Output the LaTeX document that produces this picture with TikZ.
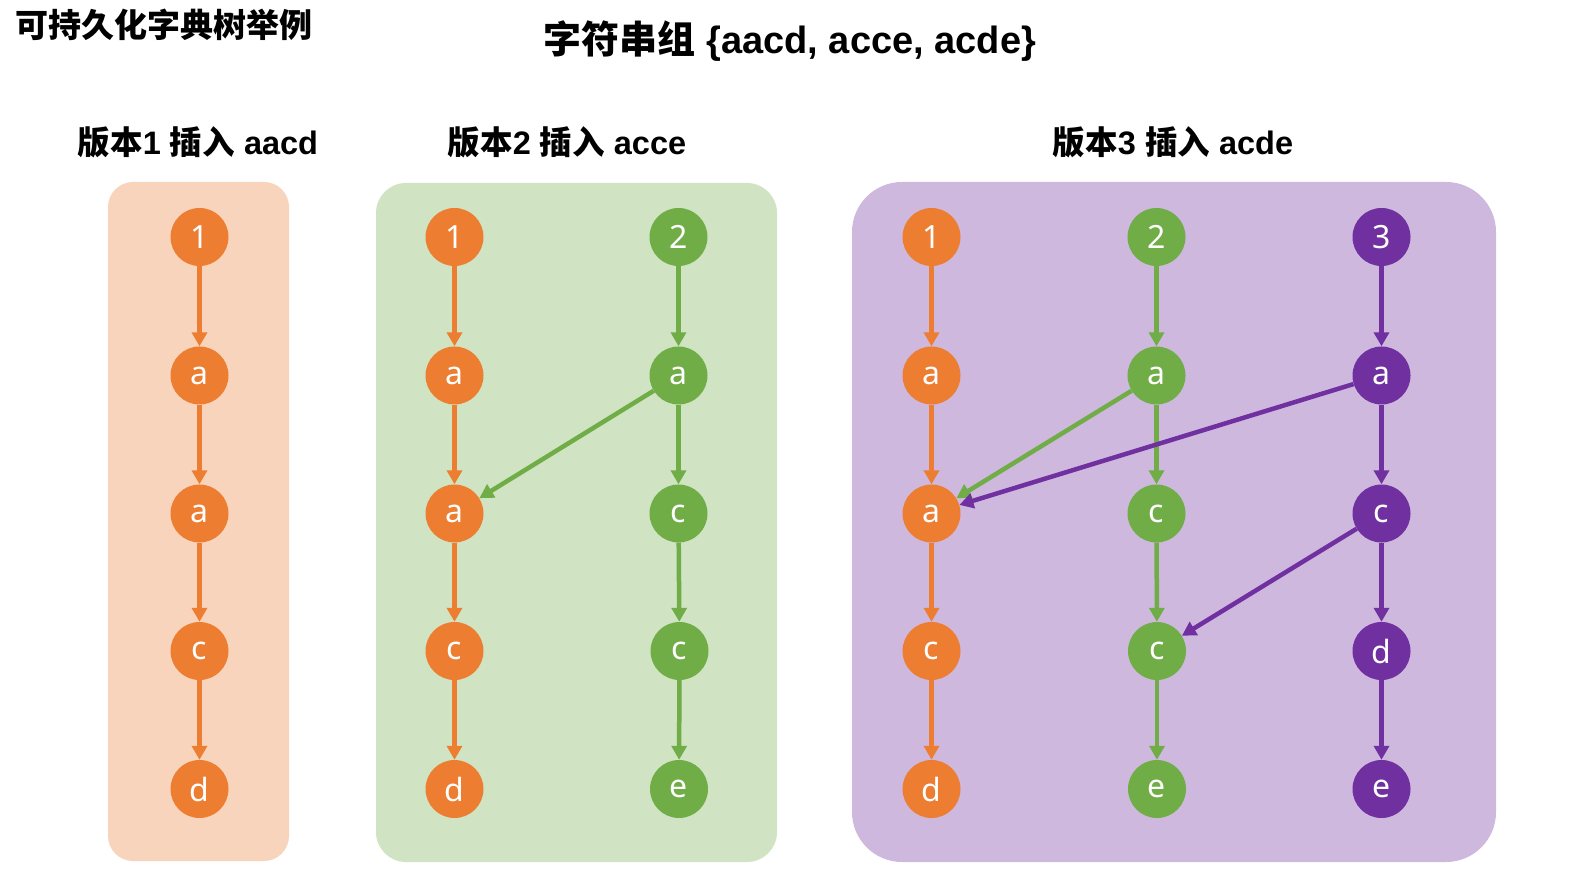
\documentclass[tikz,border=0pt]{standalone}
\usepackage{fontspec}
\setmainfont{Liberation Sans}
\newfontfamily\cjk{Noto Sans CJK SC}
\newfontfamily\nodefont{Noto Sans}
\usetikzlibrary{arrows.meta}
\definecolor{orng}{HTML}{ED7D31}
\definecolor{grn}{HTML}{70AD47}
\definecolor{purp}{HTML}{7030A0}
\definecolor{orngbg}{HTML}{F8D4BD}
\definecolor{grnbg}{HTML}{D0E3C3}
\definecolor{purpbg}{HTML}{CEB8DE}
\tikzset{
  trie/.style={circle, minimum size=58pt, inner sep=0pt, text=white, font=\nodefont\fontsize{32}{32}\selectfont},
  on/.style={trie, fill=orng},
  gn/.style={trie, fill=grn},
  pn/.style={trie, fill=purp},
  link/.style={line width=4.5pt, -{Triangle[length=14pt,width=15pt]}},
  ol/.style={link, draw=orng},
  gl/.style={link, draw=grn},
  pl/.style={link, draw=purp},
  ttl/.style={font=\bfseries\fontsize{32.5}{32.5}\selectfont, text=black},
}
\begin{document}
\begin{tikzpicture}[x=1pt,y=-1pt]
\useasboundingbox (0,0) rectangle (1588,874);
\fill[white] (0,0) rectangle (1588,874);
% panels
\fill[orngbg, rounded corners=25pt] (108,182) rectangle (289,861);
\fill[grnbg, rounded corners=30pt] (376,183) rectangle (777,862);
\fill[purpbg, rounded corners=50pt] (852,182) rectangle (1496,862);
% titles
\node[anchor=west, font=\cjk\bfseries\fontsize{33}{33}\selectfont, inner sep=0pt] (t0) at (15,25) {可持久化字典树举例};
\node[font=\bfseries\fontsize{38}{38}\selectfont, inner sep=0pt] (t1) at (790,41) {{\cjk 字符串组} \{aacd, acce, acde\}};
\node[ttl] (l1) at (198,142) {{\cjk 版本}1 {\cjk 插入} aacd};
\node[ttl] (l2) at (567,142) {{\cjk 版本}2 {\cjk 插入} acce};
\node[ttl] (l3) at (1173,142) {{\cjk 版本}3 {\cjk 插入} acde};
% version 1
\node[on] (a1) at (199.5,237) {1};
\node[on] (a2) at (199.5,375.5) {a};
\node[on] (a3) at (199.5,513.5) {a};
\node[on] (a4) at (199.5,651) {c};
\node[on] (a5) at (199.5,789) {d};
\draw[ol] (a1) -- (a2);
\draw[ol] (a2) -- (a3);
\draw[ol] (a3) -- (a4);
\draw[ol] (a4) -- (a5);
% version 2
\node[on] (b1) at (454.5,237) {1};
\node[on] (b2) at (454.5,375.5) {a};
\node[on] (b3) at (454.5,513.5) {a};
\node[on] (b4) at (454.5,651) {c};
\node[on] (b5) at (454.5,789) {d};
\node[gn] (g1) at (678.5,237) {2};
\node[gn] (g2) at (678.5,375.5) {a};
\node[gn] (g3) at (678.5,513.5) {c};
\node[gn] (g4) at (679.5,651) {c};
\node[gn] (g5) at (679,789) {e};
\draw[ol] (b1) -- (b2);
\draw[ol] (b2) -- (b3);
\draw[ol] (b3) -- (b4);
\draw[ol] (b4) -- (b5);
\draw[gl] (g1) -- (g2);
\draw[gl] (g2) -- (g3);
\draw[gl] (g3) -- (g4);
\draw[gl] (g4) -- (g5);
\draw[gl] (g2) -- (b3);
% version 3
\node[on] (c1) at (931.5,237) {1};
\node[on] (c2) at (931.5,375.5) {a};
\node[on] (c3) at (931.5,513.5) {a};
\node[on] (c4) at (931.5,651) {c};
\node[on] (c5) at (931.5,789) {d};
\node[gn] (h1) at (1156.5,237) {2};
\node[gn] (h2) at (1156.5,375.5) {a};
\node[gn] (h3) at (1156.5,513.5) {c};
\node[gn] (h4) at (1157,651) {c};
\node[gn] (h5) at (1157,789) {e};
\node[pn] (p1) at (1381.5,237) {3};
\node[pn] (p2) at (1381.5,375.5) {a};
\node[pn] (p3) at (1381.5,513.5) {c};
\node[pn] (p4) at (1381.5,651) {d};
\node[pn] (p5) at (1381.5,789) {e};
\draw[ol] (c1) -- (c2);
\draw[ol] (c2) -- (c3);
\draw[ol] (c3) -- (c4);
\draw[ol] (c4) -- (c5);
\draw[gl] (h1) -- (h2);
\draw[gl] (h2) -- (h3);
\draw[gl] (h3) -- (h4);
\draw[gl] (h4) -- (h5);
\draw[gl] (h2) -- (c3);
\draw[pl] (p1) -- (p2);
\draw[pl] (p2) -- (p3);
\draw[pl] (p3) -- (p4);
\draw[pl] (p4) -- (p5);
\draw[pl] (p2) -- (c3);
\draw[pl] (p3) -- (h4);
\end{tikzpicture}
\end{document}
